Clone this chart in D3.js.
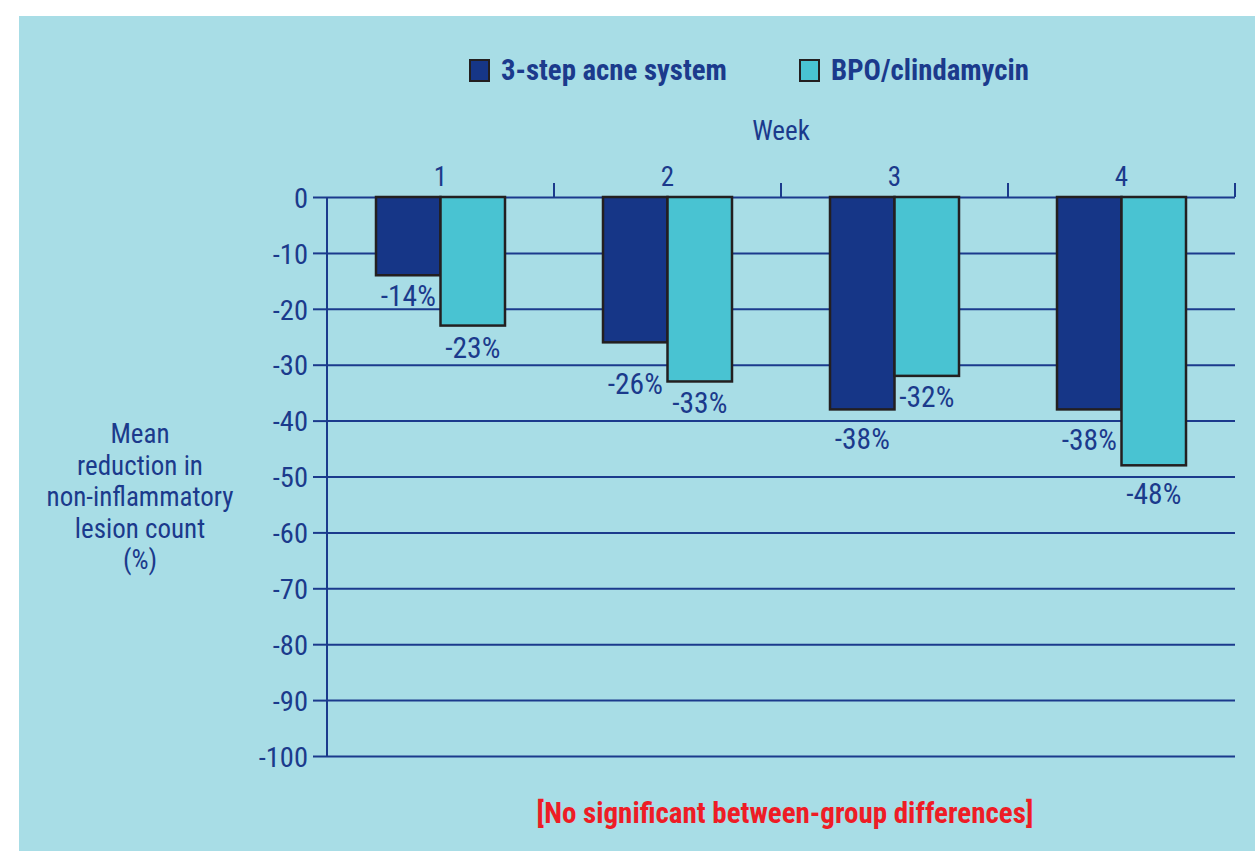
<!DOCTYPE html>
<html>
<head>
<meta charset="utf-8">
<script src="https://cdn.jsdelivr.net/npm/d3@7"></script>
<style>
  html, body { margin: 0; padding: 0; background: #ffffff; }
  svg { display: block; }
  text { font-family: "Liberation Sans Narrow", "Arial Narrow", "Roboto Condensed", sans-serif; }
</style>
</head>
<body>
<svg id="chart" width="1255" height="851"></svg>
<script>
// Weeks on the top axis
const weeks = ["1", "2", "3", "4"];
// Treatment groups
const seriesNames = ["3-step acne system", "BPO/clindamycin"];
// Mean % reduction in non-inflammatory lesion count, per week
const systemValues = [-14, -26, -38, -38];
const bpoValues = [-23, -33, -32, -48];
// Y-axis ticks
const yTicks = [0, -10, -20, -30, -40, -50, -60, -70, -80, -90, -100];
const yLabelLines = ["Mean", "reduction in", "non-inflammatory", "lesion count", "(%)"];
const footnote = "[No significant between-group differences]";

const colors = { "3-step acne system": "#163687", "BPO/clindamycin": "#49c3d2" };
const ink = "#1b3a8c";
const bg = "#a8dde6";

// how far below each bar end its value label sits (px), per series and week,
// so labels clear the neighbouring bar and gridlines
const labelDrop = {
  "3-step acne system": [31, 52, 40, 41],
  "BPO/clindamycin": [32, 32, 31, 39]
};

const svg = d3.select("#chart");

// panel background
svg.append("rect").attr("x", 19).attr("y", 16).attr("width", 1236).attr("height", 835).attr("fill", bg);

const x = d3.scaleBand().domain(weeks).range([327, 1235]).padding(0);
const x1 = d3.scaleBand().domain(seriesNames).range([49, 178]).padding(0);
const y = d3.scaleLinear().domain([-100, 0]).range([756, 197]);

// gridlines + left ticks
const yAxis = d3.axisLeft(y).tickValues(yTicks).tickSize(14).tickFormat(d3.format("d"));
const gy = svg.append("g").attr("transform", "translate(327,0)").call(yAxis);
gy.select(".domain").remove();
gy.selectAll(".tick line").attr("stroke", ink).attr("stroke-width", 2);
gy.selectAll(".tick text")
  .attr("fill", ink).attr("font-size", 28.5).attr("x", -19).attr("dy", "0.36em")
  .text(d => d === 0 ? "0" : "-" + Math.abs(d));
gy.selectAll(".tick").append("line")
  .attr("x1", 0).attr("x2", 1235 - 327)
  .attr("stroke", ink).attr("stroke-width", 2);

// vertical axis line
svg.append("line").attr("x1", 327).attr("x2", 327).attr("y1", y(0)).attr("y2", y(-100))
  .attr("stroke", ink).attr("stroke-width", 2);

// top category axis: ticks at band boundaries
const gx = svg.append("g");
gx.selectAll("line.sep").data(weeks).join("line")
  .attr("class", "sep")
  .attr("x1", d => x(d) + x.bandwidth()).attr("x2", d => x(d) + x.bandwidth())
  .attr("y1", y(0)).attr("y2", y(0) - 14)
  .attr("stroke", ink).attr("stroke-width", 2);
gx.selectAll("text").data(weeks).join("text")
  .attr("x", d => x(d) + x.bandwidth() / 2).attr("y", 186)
  .attr("text-anchor", "middle").attr("fill", ink).attr("font-size", 27)
  .text(d => d);

svg.append("text").attr("x", 781).attr("y", 140).attr("text-anchor", "middle")
  .attr("fill", ink).attr("font-size", 27).text("Week");

// bars
const rows = weeks.map((w, i) => ({ week: w, vals: [
  { s: seriesNames[0], v: systemValues[i], i },
  { s: seriesNames[1], v: bpoValues[i], i }
]}));

const groups = svg.selectAll("g.week").data(rows).join("g")
  .attr("class", "week")
  .attr("transform", d => `translate(${x(d.week)},0)`);

groups.selectAll("rect").data(d => d.vals).join("rect")
  .attr("x", d => x1(d.s)).attr("width", x1.bandwidth())
  .attr("y", y(0)).attr("height", d => y(d.v) - y(0))
  .attr("fill", d => colors[d.s]).attr("stroke", "#231f20").attr("stroke-width", 2.5);

groups.selectAll("text.val").data(d => d.vals).join("text")
  .attr("class", "val")
  .attr("x", d => x1(d.s) + x1.bandwidth() / 2)
  .attr("y", d => y(d.v) + labelDrop[d.s][d.i])
  .attr("text-anchor", "middle").attr("fill", ink).attr("font-size", 29.5)
  .text(d => d.v + "%");

// legend
const legendX = [470, 800];
const leg = svg.selectAll("g.leg").data(seriesNames).join("g")
  .attr("class", "leg").attr("transform", (d, i) => `translate(${legendX[i]},60)`);
leg.append("rect").attr("width", 19).attr("height", 21)
  .attr("fill", d => colors[d]).attr("stroke", "#231f20").attr("stroke-width", 2);
leg.append("text").attr("x", 31).attr("y", 20)
  .attr("fill", ink).attr("font-size", 28.8).attr("font-weight", "bold").text(d => d);

// y-axis title
svg.append("text").attr("text-anchor", "middle").attr("fill", ink).attr("font-size", 27)
  .selectAll("tspan").data(yLabelLines).join("tspan")
  .attr("x", 140).attr("y", (d, i) => 443 + i * 31.5).text(d => d);

// footnote
svg.append("text").attr("x", 785).attr("y", 823).attr("text-anchor", "middle")
  .attr("fill", "#ee1c25").attr("font-size", 29).attr("font-weight", "bold").text(footnote);
</script>
</body>
</html>
